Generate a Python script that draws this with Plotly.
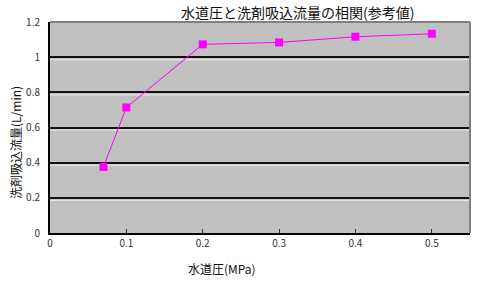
import plotly.graph_objects as go

pressure = [0.07, 0.1, 0.2, 0.3, 0.4, 0.5]
flow = [0.376, 0.714, 1.073, 1.084, 1.116, 1.133]
x_ticks = [0, 0.1, 0.2, 0.3, 0.4, 0.5]
x_tick_text = ["0", "0.1", "0.2", "0.3", "0.4", "0.5"]
y_ticks = [0, 0.2, 0.4, 0.6, 0.8, 1, 1.2]
y_tick_text = ["0", "0.2", "0.4", "0.6", "0.8", "1", "1.2"]
title = "水道圧と洗剤吸込流量の相関(参考値)"
x_title = "水道圧(MPa)"
y_title = "洗剤吸込流量(L/min)"

font = "Noto Sans CJK JP"
W, H = 481, 282
l, r, t, b = 50, 11, 22, 49
pw, ph = W - l - r, H - t - b
def px(xp):
    return (xp - l) / pw
def py(yp):
    return (H - b - yp) / ph

fig = go.Figure()
fig.add_trace(go.Scatter(
    x=pressure, y=flow, mode="lines+markers",
    line=dict(color="#FF00FF", width=1),
    marker=dict(symbol="square", size=8, color="#FF00FF"),
    cliponaxis=False, showlegend=False,
))

off = 2.5 * 1.2 / ph
shapes = []
for v in y_ticks[1:-1]:
    shapes.append(dict(type="line", xref="paper", yref="y",
                       x0=0, x1=1, y0=v - off, y1=v - off,
                       line=dict(color="#EBEBEB", width=1), layer="between"))
shapes += [
    dict(type="line", xref="paper", yref="paper", x0=0, x1=1, y0=1, y1=1,
         line=dict(color="#808080", width=2), layer="above"),
    dict(type="line", xref="paper", yref="paper", x0=1, x1=1, y0=0, y1=1,
         line=dict(color="#808080", width=2), layer="above"),
]

fig.update_layout(
    width=W, height=H,
    margin=dict(l=l, r=r, t=t, b=b),
    paper_bgcolor="white", plot_bgcolor="#C0C0C0",
    font=dict(family=font, size=10, color="#222"),
    xaxis=dict(range=[0, 0.55], tickvals=x_ticks, ticktext=x_tick_text,
               showgrid=False, zeroline=False, showline=True, linecolor="black",
               linewidth=2, ticks="inside", ticklen=4, tickcolor="#333",
               tickfont=dict(size=10, color="#333")),
    yaxis=dict(range=[0, 1.2], tickvals=y_ticks, ticktext=y_tick_text,
               showgrid=True, gridcolor="#111", gridwidth=2, zeroline=False,
               showline=True, linecolor="black", linewidth=2, ticks="",
               ticklabelstandoff=6,
               tickfont=dict(size=10, color="#333")),
    shapes=shapes,
    annotations=[
        dict(text=title, xref="paper", yref="paper", x=px(297), y=py(12),
             xanchor="center", yanchor="middle", showarrow=False,
             font=dict(size=14, color="#111", family=font)),
        dict(text=x_title, xref="paper", yref="paper", x=px(222), y=py(268),
             xanchor="center", yanchor="middle", showarrow=False,
             font=dict(size=12, color="#111", family=font)),
        dict(text=y_title, xref="paper", yref="paper", x=px(15), y=py(143),
             xanchor="center", yanchor="middle", textangle=-90, showarrow=False,
             font=dict(size=12, color="#111", family=font)),
    ],
)

fig.write_html("out.html")
